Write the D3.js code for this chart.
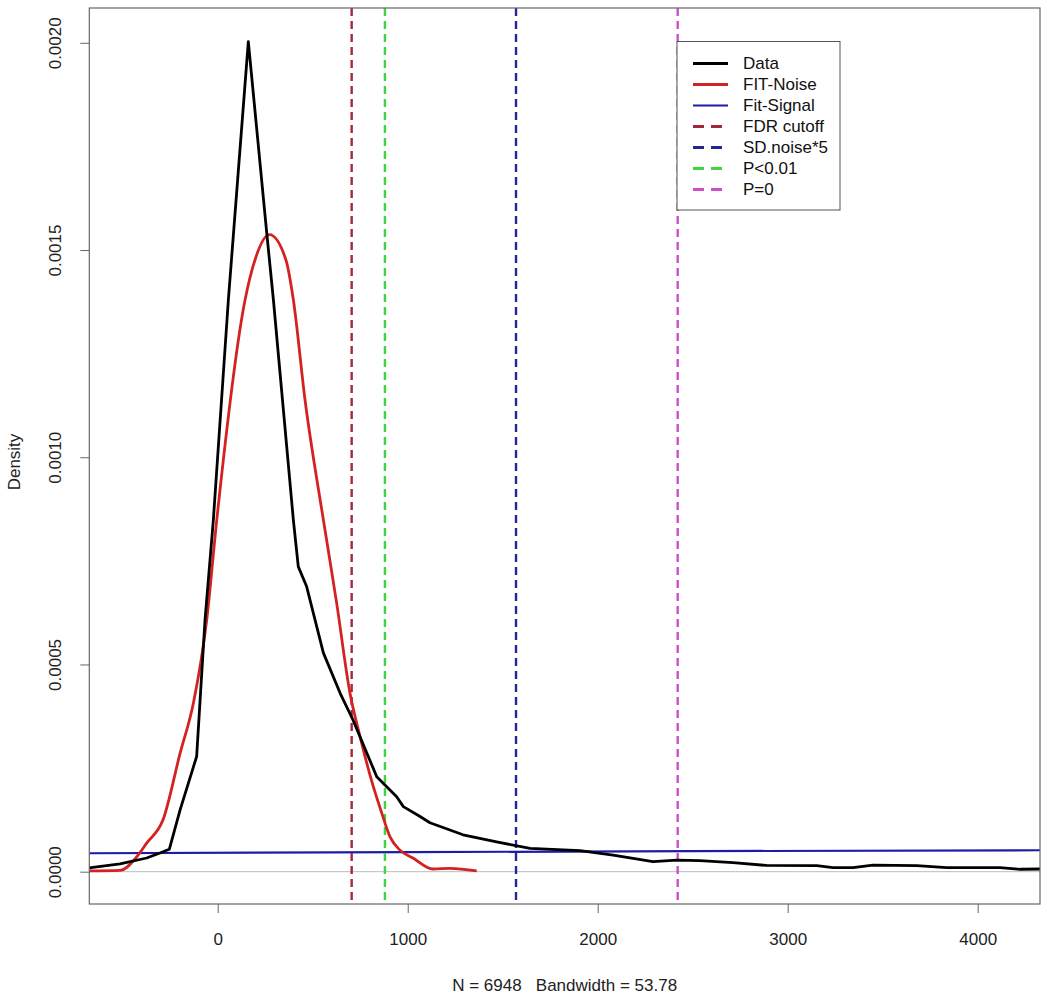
<!DOCTYPE html>
<html>
<head>
<meta charset="utf-8">
<script src="https://cdn.jsdelivr.net/npm/d3@7"></script>
<style>
  html, body { margin: 0; padding: 0; background: #fff; }
  svg { display: block; font-family: "Liberation Sans", Arial, sans-serif; }
  text { white-space: pre; }
</style>
</head>
<body>
<svg id="chart" width="1050" height="999"></svg>
<script>
// ---- data ----
const dataX = [-677, -514, -374, -304, -255, -198, -111, -67, -23, 56, 161, 258, 293, 398, 424, 468, 556, 644, 712, 837, 942, 977, 1065, 1117, 1291, 1468, 1644, 1907, 2081, 2291, 2416, 2538, 2712, 2889, 3153, 3238, 3344, 3449, 3679, 3837, 4117, 4223, 4328];
const dataY = [0.0000089, 0.0000186, 0.000033, 0.000045, 0.000054, 0.000149, 0.000278, 0.000607, 0.000849, 0.00138, 0.002003, 0.001541, 0.00138, 0.000849, 0.000736, 0.000688, 0.000528, 0.000431, 0.000366, 0.000229, 0.000181, 0.000157, 0.000133, 0.000118, 0.000089, 0.000072, 0.000056, 0.000051, 0.000040, 0.000024, 0.000028, 0.0000265, 0.000022, 0.000015, 0.0000145, 0.0000097, 0.0000097, 0.000016, 0.0000145, 0.0000097, 0.0000097, 0.0000058, 0.0000065];

const noiseX = [-677, -514, -426, -374, -288, -198, -128, -58, -5, 144, 196, 272, 359, 398, 459, 556, 626, 696, 749, 819, 863, 907, 959, 1028, 1133, 1223, 1363];
const noiseY = [0.0000017, 0.000003, 0.000036, 0.000069, 0.000125, 0.000286, 0.000407, 0.000607, 0.000849, 0.00138, 0.001476, 0.001537, 0.001476, 0.00138, 0.00114, 0.000849, 0.000648, 0.000431, 0.000326, 0.000205, 0.000142, 0.000084, 0.000052, 0.000033, 0.0000065, 0.000008, 0.0000017];

const signalX = [-677, 1000, 2500, 4328];
const signalY = [0.0000445, 0.0000472, 0.0000495, 0.0000517];

const cutoffNames = ["FDR cutoff", "SD.noise*5", "P<0.01", "P=0"];
const cutoffValues = [705, 1570, 880, 2421];

const xTicks = [0, 1000, 2000, 3000, 4000];
const yTicks = [0, 0.0005, 0.0010, 0.0015, 0.0020];
const yTickLabels = ["0.0000", "0.0005", "0.0010", "0.0015", "0.0020"];

const legendNames = ["Data", "FIT-Noise", "Fit-Signal", "FDR cutoff", "SD.noise*5", "P<0.01", "P=0"];

const xLabel = "N = 6948   Bandwidth = 53.78";
const yLabel = "Density";

// ---- styles ----
const FS = 17;
const colData = "#000000";
const colNoise = "#d42222";
const colSignal = "#1c1caa";
const cutoffColors = {"FDR cutoff": "#a3283a", "SD.noise*5": "#25259a", "P<0.01": "#3ed63e", "P=0": "#cc4fcc"};
const legendStyles = [
  {c: colData, w: 3, d: null},
  {c: colNoise, w: 3, d: null},
  {c: colSignal, w: 2, d: null},
  {c: cutoffColors["FDR cutoff"], w: 3, d: "11,7"},
  {c: cutoffColors["SD.noise*5"], w: 3, d: "11,7"},
  {c: cutoffColors["P<0.01"], w: 3, d: "11,7"},
  {c: cutoffColors["P=0"], w: 3, d: "11,7"}
];

const L = 89.3, R = 1040, T = 8, B = 904;
const svg = d3.select("#chart");

const x = d3.scaleLinear().domain([-676, 4328]).range([L, R]);
const y = d3.scaleLinear().domain([-0.000078, 0.002084]).range([B, T]);

svg.append("defs").append("clipPath").attr("id", "clip")
  .append("rect").attr("x", L).attr("y", T).attr("width", R - L).attr("height", B - T);

const plot = svg.append("g").attr("clip-path", "url(#clip)");

// zero line
plot.append("line")
  .attr("x1", L).attr("x2", R).attr("y1", y(0)).attr("y2", y(0))
  .attr("stroke", "#bdbdbd").attr("stroke-width", 1);

const lineLin = d3.line().x(d => x(d[0])).y(d => y(d[1]));
const lineSmooth = d3.line().x(d => x(d[0])).y(d => y(d[1])).curve(d3.curveMonotoneX);

// signal
plot.append("path").datum(d3.zip(signalX, signalY))
  .attr("d", lineLin).attr("fill", "none").attr("stroke", colSignal).attr("stroke-width", 2.2);

// cutoffs
cutoffNames.forEach((n, i) => {
  plot.append("line")
    .attr("x1", x(cutoffValues[i])).attr("x2", x(cutoffValues[i]))
    .attr("y1", T).attr("y2", B)
    .attr("stroke", cutoffColors[n]).attr("stroke-width", 2.4)
    .attr("stroke-dasharray", "8,5");
});

// noise fit
plot.append("path").datum(d3.zip(noiseX, noiseY))
  .attr("d", lineSmooth).attr("fill", "none").attr("stroke", colNoise)
  .attr("stroke-width", 2.8).attr("stroke-linejoin", "round");

// data density
plot.append("path").datum(d3.zip(dataX, dataY))
  .attr("d", lineLin).attr("fill", "none").attr("stroke", colData)
  .attr("stroke-width", 2.8).attr("stroke-linejoin", "round");

// box
svg.append("rect").attr("x", L).attr("y", T).attr("width", R - L).attr("height", B - T)
  .attr("fill", "none").attr("stroke", "#666").attr("stroke-width", 1.2);

// x axis
const xAxis = d3.axisBottom(x).tickValues(xTicks).tickSize(9).tickPadding(20).tickFormat(d3.format("d"));
const gx = svg.append("g").attr("transform", `translate(0,${B})`).call(xAxis);
gx.select(".domain").remove();
gx.selectAll("line").attr("stroke", "#666");
gx.selectAll("text").attr("font-size", FS).attr("fill", "#222").attr("font-family", "Liberation Sans, Arial, sans-serif");

// y axis
const yAxis = d3.axisLeft(y).tickValues(yTicks).tickSize(9).tickFormat((d, i) => yTickLabels[i]);
const gy = svg.append("g").attr("transform", `translate(${L},0)`).call(yAxis);
gy.select(".domain").remove();
gy.selectAll("line").attr("stroke", "#666");
gy.selectAll("text")
  .attr("font-size", FS).attr("fill", "#222").attr("font-family", "Liberation Sans, Arial, sans-serif")
  .attr("x", null).attr("dy", null)
  .attr("text-anchor", "middle")
  .attr("transform", "translate(-34,0) rotate(-90)")
  .attr("dominant-baseline", "central");

// axis titles
svg.append("text").attr("x", (L + R) / 2).attr("y", 991).attr("text-anchor", "middle")
  .attr("font-size", FS).attr("fill", "#222").text(xLabel);
svg.append("text").attr("transform", `translate(14,${(T + B) / 2 + 6}) rotate(-90)`)
  .attr("text-anchor", "middle").attr("dominant-baseline", "central")
  .attr("font-size", FS).attr("fill", "#222").text(yLabel);

// legend
const lg = svg.append("g");
lg.append("rect").attr("x", 677).attr("y", 41.5).attr("width", 163).attr("height", 168.5)
  .attr("fill", "#fff").attr("stroke", "#555").attr("stroke-width", 1);
legendNames.forEach((n, i) => {
  const cy = 63.5 + i * 21;
  const s = legendStyles[i];
  lg.append("line").attr("x1", 693).attr("x2", 728).attr("y1", cy).attr("y2", cy)
    .attr("stroke", s.c).attr("stroke-width", s.w).attr("stroke-dasharray", s.d);
  lg.append("text").attr("x", 743).attr("y", cy).attr("dominant-baseline", "central")
    .attr("font-size", FS).attr("fill", "#111").text(n);
});
</script>
</body>
</html>
